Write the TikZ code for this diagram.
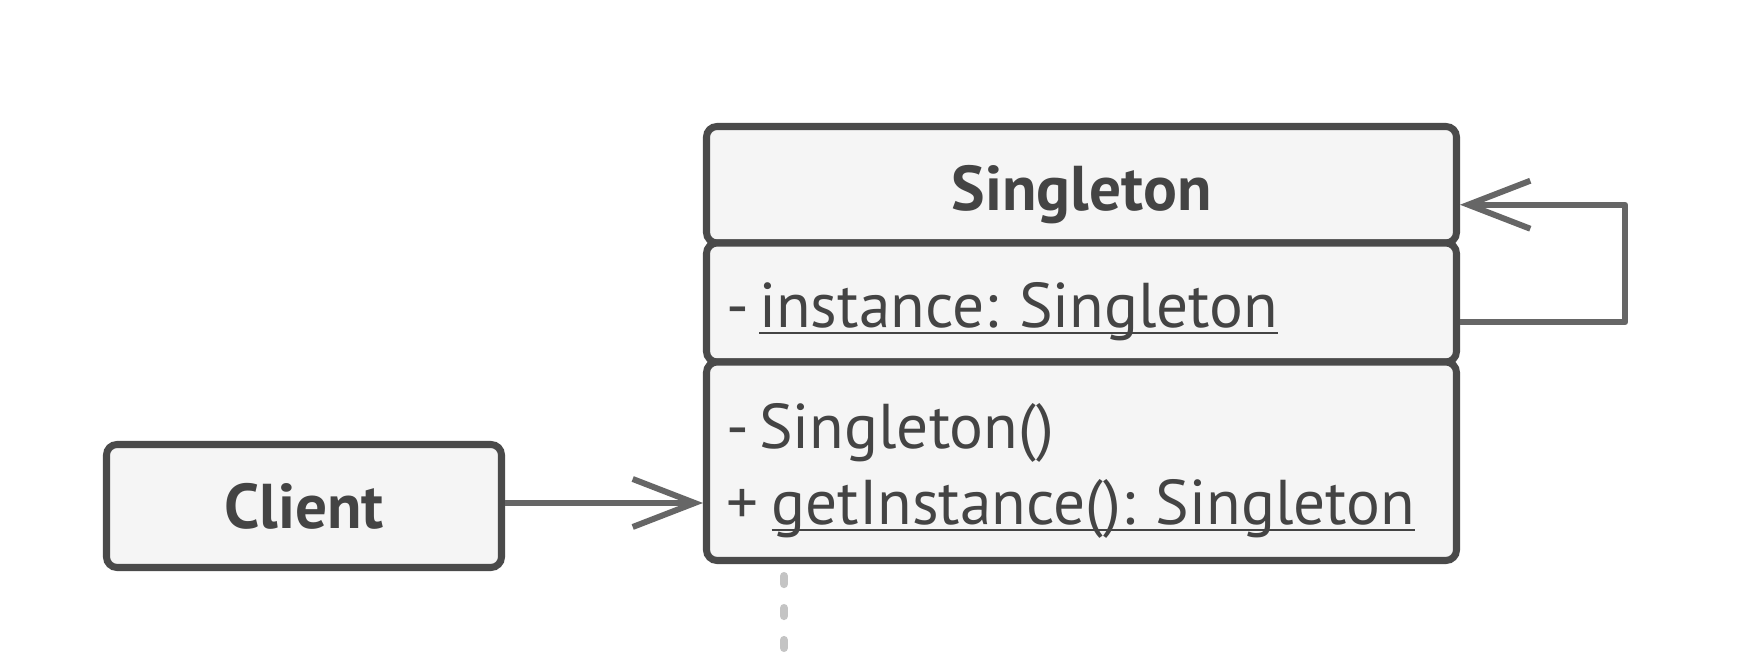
\documentclass[tikz,border=0pt]{standalone}
\usepackage{fontspec}
\setmainfont{PT Sans}
\usetikzlibrary{positioning,arrows.meta}

\definecolor{boxline}{HTML}{4A4A4A}
\definecolor{boxfill}{HTML}{F5F5F5}
\definecolor{arrowgray}{HTML}{666666}
\definecolor{dashgray}{HTML}{C4C4C4}
\definecolor{textgray}{HTML}{444444}
\newcommand{\ulname}[1]{\underline{\smash{#1}}}
\newcommand{\vis}[2][0.16em]{#2\hspace{#1}}
\frenchspacing

\begin{document}
\begin{tikzpicture}[
    font=\fontsize{18}{21.6}\selectfont,
    umlbox/.style={draw=boxline, fill=boxfill, line width=2pt, rounded corners=3pt,
      text=textgray, inner xsep=0.2cm, inner ysep=0pt},
    compartment/.style={umlbox, text width=7.1cm, align=left,
      text height=0.57cm, text depth=0.06cm},
    assoc/.style={draw=arrowgray, line width=1.7pt, line join=round,
      -{Straight Barb[length=0.62cm, width=0.48cm, line width=1.7pt]}}
  ]
    \useasboundingbox (0,0) rectangle (17.48,-6.68);

    \node[compartment, align=center, minimum height=1.165cm] (title) at (10.815,-1.8475) {\bfseries Singleton};
    \node[compartment, minimum height=1.19cm, below=-2pt of title] (attrs) {\vis{-}\ulname{instance: Singleton}};
    \node[compartment, minimum height=1.985cm, text height=0.5cm, text depth=0.745cm,
      below=-2pt of attrs] (ops) {\vis{-}Singleton()\\\vis[0.21em]{+}\ulname{getInstance(): Singleton}};

    \node[umlbox, minimum width=3.95cm, minimum height=1.23cm] (client) at (3.04,-5.06) {\bfseries Client};

    \draw[assoc] ([yshift=0.3mm]client.east) -- ([yshift=0.3mm]client.east -| ops.west);
    \draw[assoc] ([yshift=-2mm]attrs.east) -- ++(1.65,0) |- ([yshift=-2mm]title.east);

    \coordinate (lifeline) at (7.84,-6.48);
    \draw[dashgray, line width=2.3pt, line cap=round, dash pattern=on 2.3pt off 6.8pt]
      ([yshift=-1.2mm]ops.south -| lifeline) -- (lifeline);
\end{tikzpicture}
\end{document}
